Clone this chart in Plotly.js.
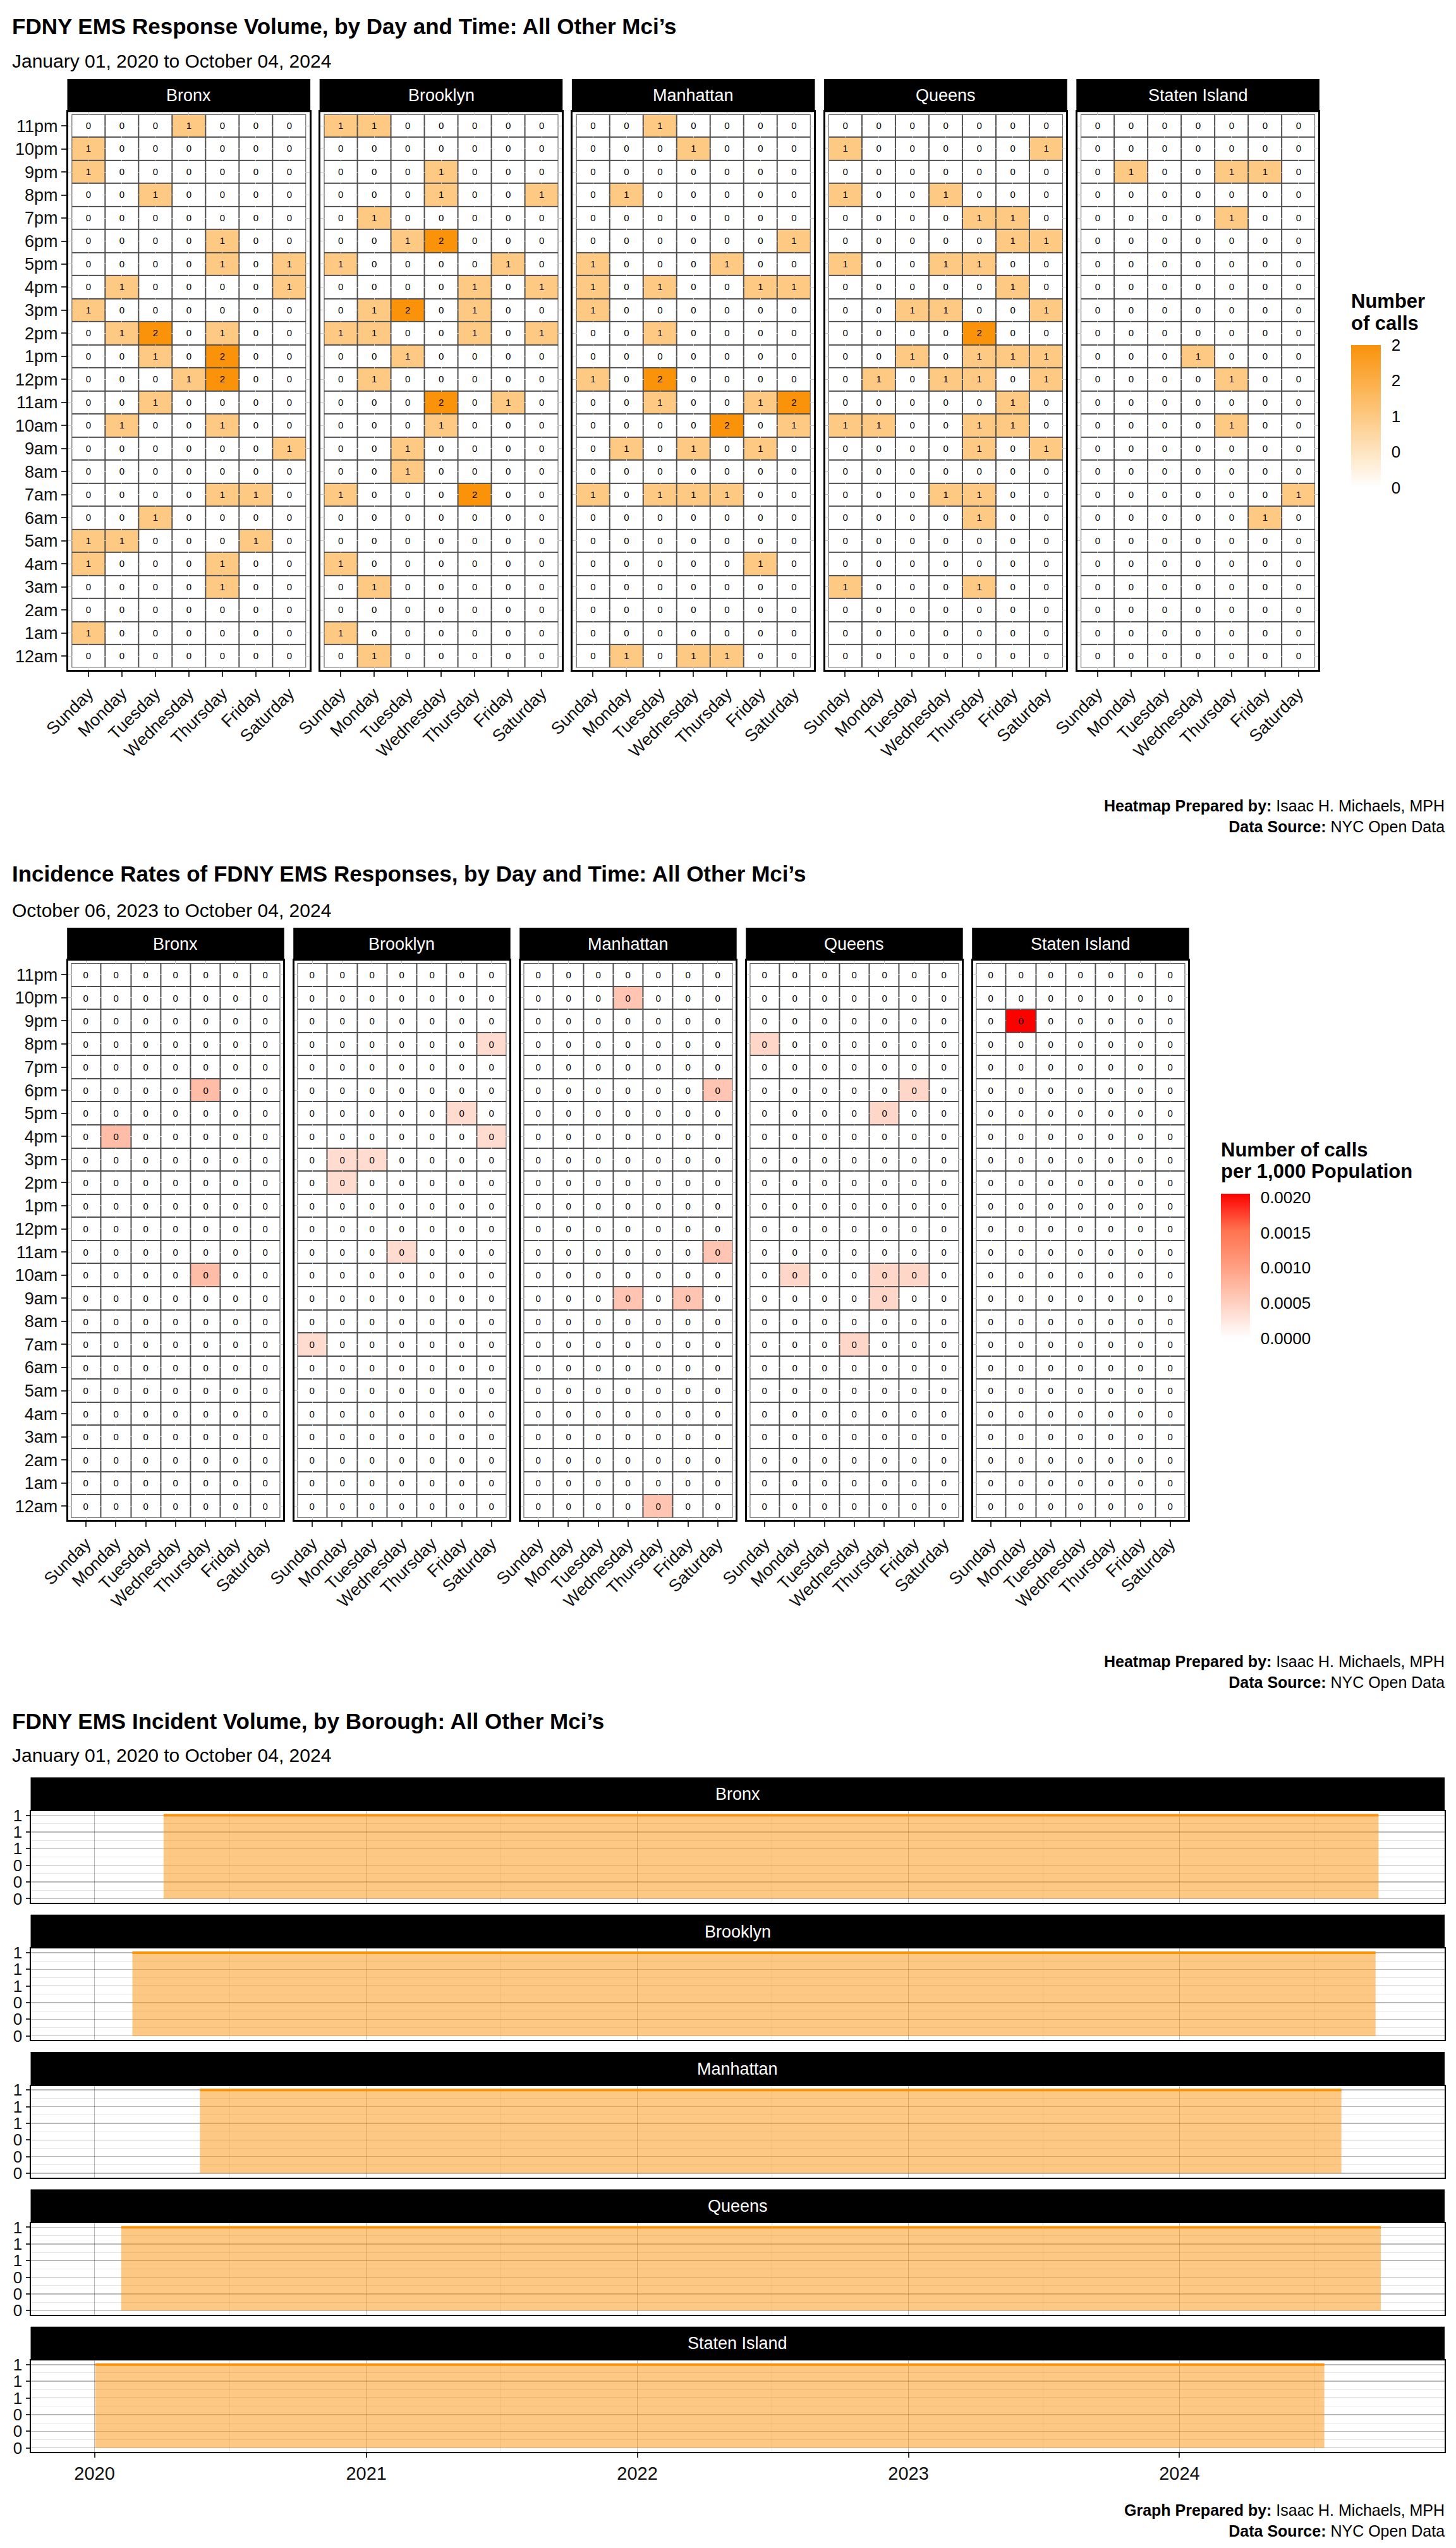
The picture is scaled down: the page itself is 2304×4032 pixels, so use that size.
<!DOCTYPE html>
<html><head><meta charset="utf-8">
<script src="https://cdn.plot.ly/plotly-3.0.1.min.js"></script>
<style>html,body{margin:0;padding:0;background:#fff}#chart{width:2304px;height:4032px}</style>
</head><body><div id="chart"></div>
<script>
// ---------------- DATA ----------------
const days = ['Sunday','Monday','Tuesday','Wednesday','Thursday','Friday','Saturday'];
const hours = ['11pm','10pm','9pm','8pm','7pm','6pm','5pm','4pm','3pm','2pm','1pm','12pm','11am','10am','9am','8am','7am','6am','5am','4am','3am','2am','1am','12am'];
const boroughs = ['Bronx','Brooklyn','Manhattan','Queens','Staten Island'];

// Number of calls (rows = hours top to bottom, cols = days)
const bronxCalls = [
[0,0,0,1,0,0,0],[1,0,0,0,0,0,0],[1,0,0,0,0,0,0],[0,0,1,0,0,0,0],[0,0,0,0,0,0,0],[0,0,0,0,1,0,0],
[0,0,0,0,1,0,1],[0,1,0,0,0,0,1],[1,0,0,0,0,0,0],[0,1,2,0,1,0,0],[0,0,1,0,2,0,0],[0,0,0,1,2,0,0],
[0,0,1,0,0,0,0],[0,1,0,0,1,0,0],[0,0,0,0,0,0,1],[0,0,0,0,0,0,0],[0,0,0,0,1,1,0],[0,0,1,0,0,0,0],
[1,1,0,0,0,1,0],[1,0,0,0,1,0,0],[0,0,0,0,1,0,0],[0,0,0,0,0,0,0],[1,0,0,0,0,0,0],[0,0,0,0,0,0,0]];
const brooklynCalls = [
[1,1,0,0,0,0,0],[0,0,0,0,0,0,0],[0,0,0,1,0,0,0],[0,0,0,1,0,0,1],[0,1,0,0,0,0,0],[0,0,1,2,0,0,0],
[1,0,0,0,0,1,0],[0,0,0,0,1,0,1],[0,1,2,0,1,0,0],[1,1,0,0,1,0,1],[0,0,1,0,0,0,0],[0,1,0,0,0,0,0],
[0,0,0,2,0,1,0],[0,0,0,1,0,0,0],[0,0,1,0,0,0,0],[0,0,1,0,0,0,0],[1,0,0,0,2,0,0],[0,0,0,0,0,0,0],
[0,0,0,0,0,0,0],[1,0,0,0,0,0,0],[0,1,0,0,0,0,0],[0,0,0,0,0,0,0],[1,0,0,0,0,0,0],[0,1,0,0,0,0,0]];
const manhattanCalls = [
[0,0,1,0,0,0,0],[0,0,0,1,0,0,0],[0,0,0,0,0,0,0],[0,1,0,0,0,0,0],[0,0,0,0,0,0,0],[0,0,0,0,0,0,1],
[1,0,0,0,1,0,0],[1,0,1,0,0,1,1],[1,0,0,0,0,0,0],[0,0,1,0,0,0,0],[0,0,0,0,0,0,0],[1,0,2,0,0,0,0],
[0,0,1,0,0,1,2],[0,0,0,0,2,0,1],[0,1,0,1,0,1,0],[0,0,0,0,0,0,0],[1,0,1,1,1,0,0],[0,0,0,0,0,0,0],
[0,0,0,0,0,0,0],[0,0,0,0,0,1,0],[0,0,0,0,0,0,0],[0,0,0,0,0,0,0],[0,0,0,0,0,0,0],[0,1,0,1,1,0,0]];
const queensCalls = [
[0,0,0,0,0,0,0],[1,0,0,0,0,0,1],[0,0,0,0,0,0,0],[1,0,0,1,0,0,0],[0,0,0,0,1,1,0],[0,0,0,0,0,1,1],
[1,0,0,1,1,0,0],[0,0,0,0,0,1,0],[0,0,1,1,0,0,1],[0,0,0,0,2,0,0],[0,0,1,0,1,1,1],[0,1,0,1,1,0,1],
[0,0,0,0,0,1,0],[1,1,0,0,1,1,0],[0,0,0,0,1,0,1],[0,0,0,0,0,0,0],[0,0,0,1,1,0,0],[0,0,0,0,1,0,0],
[0,0,0,0,0,0,0],[0,0,0,0,0,0,0],[1,0,0,0,1,0,0],[0,0,0,0,0,0,0],[0,0,0,0,0,0,0],[0,0,0,0,0,0,0]];
const statenCalls = [
[0,0,0,0,0,0,0],[0,0,0,0,0,0,0],[0,1,0,0,1,1,0],[0,0,0,0,0,0,0],[0,0,0,0,1,0,0],[0,0,0,0,0,0,0],
[0,0,0,0,0,0,0],[0,0,0,0,0,0,0],[0,0,0,0,0,0,0],[0,0,0,0,0,0,0],[0,0,0,1,0,0,0],[0,0,0,0,1,0,0],
[0,0,0,0,0,0,0],[0,0,0,0,1,0,0],[0,0,0,0,0,0,0],[0,0,0,0,0,0,0],[0,0,0,0,0,0,1],[0,0,0,0,0,1,0],
[0,0,0,0,0,0,0],[0,0,0,0,0,0,0],[0,0,0,0,0,0,0],[0,0,0,0,0,0,0],[0,0,0,0,0,0,0],[0,0,0,0,0,0,0]];

// Calls per 1,000 population (last year)
const bronxRates = [
[0,0,0,0,0,0,0],[0,0,0,0,0,0,0],[0,0,0,0,0,0,0],[0,0,0,0,0,0,0],[0,0,0,0,0,0,0],[0,0,0,0,0.00071,0,0],
[0,0,0,0,0,0,0],[0,0.00071,0,0,0,0,0],[0,0,0,0,0,0,0],[0,0,0,0,0,0,0],[0,0,0,0,0,0,0],[0,0,0,0,0,0,0],
[0,0,0,0,0,0,0],[0,0,0,0,0.00071,0,0],[0,0,0,0,0,0,0],[0,0,0,0,0,0,0],[0,0,0,0,0,0,0],[0,0,0,0,0,0,0],
[0,0,0,0,0,0,0],[0,0,0,0,0,0,0],[0,0,0,0,0,0,0],[0,0,0,0,0,0,0],[0,0,0,0,0,0,0],[0,0,0,0,0,0,0]];
const brooklynRates = [
[0,0,0,0,0,0,0],[0,0,0,0,0,0,0],[0,0,0,0,0,0,0],[0,0,0,0,0,0,0.00038],[0,0,0,0,0,0,0],[0,0,0,0,0,0,0],
[0,0,0,0,0,0.00038,0],[0,0,0,0,0,0,0.00038],[0,0.00038,0.00038,0,0,0,0],[0,0.00038,0,0,0,0,0],[0,0,0,0,0,0,0],[0,0,0,0,0,0,0],
[0,0,0,0.00038,0,0,0],[0,0,0,0,0,0,0],[0,0,0,0,0,0,0],[0,0,0,0,0,0,0],[0.00038,0,0,0,0,0,0],[0,0,0,0,0,0,0],
[0,0,0,0,0,0,0],[0,0,0,0,0,0,0],[0,0,0,0,0,0,0],[0,0,0,0,0,0,0],[0,0,0,0,0,0,0],[0,0,0,0,0,0,0]];
const manhattanRates = [
[0,0,0,0,0,0,0],[0,0,0,0.00062,0,0,0],[0,0,0,0,0,0,0],[0,0,0,0,0,0,0],[0,0,0,0,0,0,0],[0,0,0,0,0,0,0.00062],
[0,0,0,0,0,0,0],[0,0,0,0,0,0,0],[0,0,0,0,0,0,0],[0,0,0,0,0,0,0],[0,0,0,0,0,0,0],[0,0,0,0,0,0,0],
[0,0,0,0,0,0,0.00062],[0,0,0,0,0,0,0],[0,0,0,0.00062,0,0.00062,0],[0,0,0,0,0,0,0],[0,0,0,0,0,0,0],[0,0,0,0,0,0,0],
[0,0,0,0,0,0,0],[0,0,0,0,0,0,0],[0,0,0,0,0,0,0],[0,0,0,0,0,0,0],[0,0,0,0,0,0,0],[0,0,0,0,0.00062,0,0]];
const queensRates = [
[0,0,0,0,0,0,0],[0,0,0,0,0,0,0],[0,0,0,0,0,0,0],[0.00043,0,0,0,0,0,0],[0,0,0,0,0,0,0],[0,0,0,0,0,0.00043,0],
[0,0,0,0,0.00043,0,0],[0,0,0,0,0,0,0],[0,0,0,0,0,0,0],[0,0,0,0,0,0,0],[0,0,0,0,0,0,0],[0,0,0,0,0,0,0],
[0,0,0,0,0,0,0],[0,0.00043,0,0,0.00043,0.00043,0],[0,0,0,0,0.00043,0,0],[0,0,0,0,0,0,0],[0,0,0,0.00043,0,0,0],[0,0,0,0,0,0,0],
[0,0,0,0,0,0,0],[0,0,0,0,0,0,0],[0,0,0,0,0,0,0],[0,0,0,0,0,0,0],[0,0,0,0,0,0,0],[0,0,0,0,0,0,0]];
const statenRates = [
[0,0,0,0,0,0,0],[0,0,0,0,0,0,0],[0,0.00205,0,0,0,0,0],[0,0,0,0,0,0,0],[0,0,0,0,0,0,0],[0,0,0,0,0,0,0],
[0,0,0,0,0,0,0],[0,0,0,0,0,0,0],[0,0,0,0,0,0,0],[0,0,0,0,0,0,0],[0,0,0,0,0,0,0],[0,0,0,0,0,0,0],
[0,0,0,0,0,0,0],[0,0,0,0,0,0,0],[0,0,0,0,0,0,0],[0,0,0,0,0,0,0],[0,0,0,0,0,0,0],[0,0,0,0,0,0,0],
[0,0,0,0,0,0,0],[0,0,0,0,0,0,0],[0,0,0,0,0,0,0],[0,0,0,0,0,0,0],[0,0,0,0,0,0,0],[0,0,0,0,0,0,0]];

// Incident volume over time (first and last incident, daily volume)
const bronxDates = ['2020-04-03','2024-09-25'];      const bronxVolume = [1,1];
const brooklynDates = ['2020-02-21','2024-09-21'];   const brooklynVolume = [1,1];
const manhattanDates = ['2020-05-22','2024-08-06'];  const manhattanVolume = [1,1];
const queensDates = ['2020-02-06','2024-09-28'];     const queensVolume = [1,1];
const statenDates = ['2020-01-02','2024-07-14'];     const statenVolume = [1,1];

// Tick labels
const callTicks = [0,0.5,1,1.5,2];
const callTickLabels = ['0','0','1','2','2'];
const rateTicks = [0,0.0005,0.001,0.0015,0.002];
const rateTickLabels = ['0.0000','0.0005','0.0010','0.0015','0.0020'];
const volTicks = [0,0.2,0.4,0.6,0.8,1];
const volTickLabels = ['0','0','0','1','1','1'];
const volMinorTicks = [0.1,0.3,0.5,0.7,0.9];
const yearTicks = ['2020-01-01','2021-01-01','2022-01-01','2023-01-01','2024-01-01'];
const yearLabels = ['2020','2021','2022','2023','2024'];
const halfYearTicks = ['2019-07-01','2020-07-01','2021-07-01','2022-07-01','2023-07-01','2024-07-01'];

// ---------------- LAYOUT ----------------
const W = 2304, H = 4032;
const FONT = 'Liberation Sans, Arial, Helvetica, sans-serif';
const px = v => v / W;
const py = v => 1 - v / H;

const callsData = [bronxCalls, brooklynCalls, manhattanCalls, queensCalls, statenCalls];
const ratesData = [bronxRates, brooklynRates, manhattanRates, queensRates, statenRates];
const volDates = [bronxDates, brooklynDates, manhattanDates, queensDates, statenDates];
const volValues = [bronxVolume, brooklynVolume, manhattanVolume, queensVolume, statenVolume];

const orangeScale = [[0,'rgb(255,255,255)'],[0.5,'rgb(253,201,131)'],[1,'rgb(250,146,10)']];
const redScale = [[0,'rgb(255,255,255)'],[0.25,'rgb(255,207,191)'],[0.5,'rgb(255,158,129)'],[0.75,'rgb(255,114,79)'],[1,'rgb(255,0,0)']];

const traces = [];
const shapes = [];
const annotations = [];
const layout = {
  width: W, height: H,
  margin: {l:0, r:0, t:0, b:0},
  paper_bgcolor: '#ffffff', plot_bgcolor: '#ffffff',
  showlegend: false,
  font: {family: FONT, color: '#000'},
  shapes: shapes, annotations: annotations
};

function addTitle(text, y, size, bold) {
  annotations.push({xref:'paper', yref:'paper', x: px(17), y: py(y), xanchor:'left', yanchor:'middle',
    text: bold ? '<b>'+text+'</b>' : text, showarrow:false, font:{size:size, family:FONT, color:'#000'}});
}
function addFooter(first, y) {
  annotations.push({xref:'paper', yref:'paper', x: px(2288), y: py(y), xanchor:'right', yanchor:'middle', align:'right',
    text: '<b>'+first+'</b> Isaac H. Michaels, MPH<br><b>Data Source:</b> NYC Open Data',
    showarrow:false, font:{size:25, family:FONT, color:'#000'}});
}
function addStrip(x0, x1, y0, y1, label) {
  shapes.push({type:'rect', xref:'paper', yref:'paper', x0:px(x0), x1:px(x1), y0:py(y1), y1:py(y0),
    fillcolor:'#000', line:{width:0}, layer:'above'});
  annotations.push({xref:'paper', yref:'paper', x: px((x0+x1)/2), y: py((y0+y1)/2), xanchor:'center', yanchor:'middle',
    text: label, showarrow:false, font:{size:27, family:FONT, color:'#fff'}});
}

function addHeatRow(dataSet, axisStart, frameLeft0, step, frameW, yTop, yBot, stripTop, coloraxis, tmpl) {
  for (let k = 0; k < boroughs.length; k++) {
    const n = axisStart + k;
    const xa = 'x' + n, ya = 'y' + n;
    const left = frameLeft0 + k * step;
    traces.push({type:'heatmap', x: days, y: hours, z: dataSet[k], xaxis: xa, yaxis: ya,
      coloraxis: coloraxis, xgap: 2, ygap: 2, texttemplate: tmpl,
      textfont: {size: 15, family: FONT, color: '#000'}, hoverinfo: 'skip'});
    layout['xaxis' + n] = {domain:[px(left), px(left + frameW)], anchor: ya, type:'category',
      range:[-0.6, days.length - 0.4], tickangle: -45, ticks:'outside', ticklen: 8, tickwidth: 2, tickcolor:'#333',
      showline: true, mirror: true, linecolor:'#000', linewidth: 3, showgrid: true, gridcolor:'#c8c8c8', gridwidth: 1,
      zeroline: false, fixedrange: true, tickfont:{size: 27, family: FONT, color:'#111'}};
    layout['yaxis' + n] = {domain:[py(yBot), py(yTop)], anchor: xa, type:'category',
      range:[hours.length - 0.4, -0.6], ticks: k === 0 ? 'outside' : '', ticklen: 8, tickwidth: 2, tickcolor:'#333',
      showticklabels: k === 0, showline: true, mirror: true, linecolor:'#000', linewidth: 3,
      showgrid: true, gridcolor:'#c8c8c8', gridwidth: 1, zeroline: false, fixedrange: true,
      tickfont:{size: 27, family: FONT, color:'#111'}};
    // dark backing under the tiles so the gaps read as cell borders
    shapes.push({type:'rect', xref: xa, yref: ya, x0: -0.5, x1: days.length - 0.5, y0: -0.5, y1: hours.length - 0.5,
      fillcolor:'#505050', line:{width:0}, layer:'below'});
    addStrip(left - 1.5, left + frameW + 1.5, stripTop, yTop, boroughs[k]);
  }
}

// ---- Chart 1: counts heatmap ----
addTitle('FDNY EMS Response Volume, by Day and Time: All Other Mci’s', 42, 35, true);
addTitle('January 01, 2020 to October 04, 2024', 96, 30, false);
addHeatRow(callsData, 1, 108, 399.2, 381.6, 177.2, 1060.1, 125, 'coloraxis', '%{z}');
addFooter('Heatmap Prepared by:', 1291);

// ---- Chart 2: rates heatmap ----
addTitle('Incidence Rates of FDNY EMS Responses, by Day and Time: All Other Mci’s', 1383, 35, true);
addTitle('October 06, 2023 to October 04, 2024', 1440, 30, false);
addHeatRow(ratesData, 6, 107.7, 358, 340.5, 1520.3, 2405.3, 1468, 'coloraxis2', '%{z:.0f}');
addFooter('Heatmap Prepared by:', 2645);

// colour axes
let rateMax = 0;
ratesData.forEach(m => m.forEach(r => r.forEach(v => { if (v > rateMax) rateMax = v; })));
let callMax = 0;
callsData.forEach(m => m.forEach(r => r.forEach(v => { if (v > callMax) callMax = v; })));

layout.coloraxis = {cmin: 0, cmax: callMax, colorscale: orangeScale,
  colorbar: {x: px(2138), xanchor:'left', y: py(545.7), yanchor:'top', len: 226, lenmode:'pixels',
    thickness: 47, thicknessmode:'pixels', xpad: 0, ypad: 0, outlinewidth: 0,
    tickmode:'array', tickvals: callTicks, ticktext: callTickLabels, ticks:'outside', ticklen: 12,
    tickcolor:'rgba(0,0,0,0)', tickfont:{size: 26, family: FONT, color:'#000'}}};
layout.coloraxis2 = {cmin: 0, cmax: rateMax, colorscale: redScale,
  colorbar: {x: px(1931.7), xanchor:'left', y: py(1889), yanchor:'top', len: 229, lenmode:'pixels',
    thickness: 46, thicknessmode:'pixels', xpad: 0, ypad: 0, outlinewidth: 0,
    tickmode:'array', tickvals: rateTicks, ticktext: rateTickLabels, ticks:'outside', ticklen: 12,
    tickcolor:'rgba(0,0,0,0)', tickfont:{size: 26, family: FONT, color:'#000'}}};

function legendTitle(text, x, y) {
  annotations.push({xref:'paper', yref:'paper', x: px(x), y: py(y), xanchor:'left', yanchor:'middle',
    text:'<b>'+text+'</b>', showarrow:false, font:{size: 31, family: FONT, color:'#000'}});
}
legendTitle('Number', 2136, 477);
legendTitle('of calls', 2136, 511);
legendTitle('Number of calls', 1930, 1820);
legendTitle('per 1,000 Population', 1930, 1853);

// ---- Chart 3: incident volume over time ----
addTitle('FDNY EMS Incident Volume, by Borough: All Other Mci’s', 2723, 35, true);
addTitle('January 01, 2020 to October 04, 2024', 2777, 30, false);

let tMin = Infinity, tMax = -Infinity;
volDates.forEach(d => d.forEach(s => { const t = Date.parse(s); if (t < tMin) tMin = t; if (t > tMax) tMax = t; }));
const pad = (tMax - tMin) * 0.05;
const iso = t => new Date(t).toISOString().slice(0, 10);
const xRange = [iso(tMin - pad), iso(tMax + pad)];

const pLeft = 48.5, pRight = 2286, stripStart = 2812.5, period = 217.3, stripH = 53.5, panelH = 145;
for (let k = 0; k < boroughs.length; k++) {
  const n = 11 + k;
  const xa = 'x' + n, ya = 'y' + n;
  const sTop = stripStart + k * period;
  const pTop = sTop + stripH, pBot = pTop + panelH;
  const last = k === boroughs.length - 1;
  traces.push({type:'scatter', mode:'lines', x: volDates[k], y: volValues[k], xaxis: xa, yaxis: ya,
    fill:'tozeroy', fillcolor:'rgba(250,146,10,0.5)', line:{color:'rgb(250,146,10)', width: 4}, hoverinfo:'skip'});
  layout['xaxis' + n] = {domain:[px(pLeft), px(pRight)], anchor: ya, type:'date', range: xRange,
    tickmode:'array', tickvals: yearTicks, ticktext: yearLabels, showticklabels: last,
    ticks: last ? 'outside' : '', ticklen: 7, tickwidth: 2, tickcolor:'#333',
    showgrid: true, gridcolor:'rgba(0,0,0,0.28)', gridwidth: 1.5,
    minor:{tickmode:'array', tickvals: halfYearTicks, showgrid: true, gridcolor:'rgba(0,0,0,0.1)', gridwidth: 1},
    showline: true, mirror: true, linecolor:'#000', linewidth: 2, zeroline: false, fixedrange: true,
    tickfont:{size: 29, family: FONT, color:'#111'}};
  layout['yaxis' + n] = {domain:[py(pBot), py(pTop)], anchor: xa, range:[-0.05, 1.05],
    tickmode:'array', tickvals: volTicks, ticktext: volTickLabels, ticks:'outside', ticklen: 6, tickwidth: 2, tickcolor:'#333',
    showgrid: true, gridcolor:'rgba(0,0,0,0.28)', gridwidth: 1.5,
    minor:{tickmode:'array', tickvals: volMinorTicks, showgrid: true, gridcolor:'rgba(0,0,0,0.1)', gridwidth: 1},
    showline: true, mirror: true, linecolor:'#000', linewidth: 2, zeroline: false, fixedrange: true,
    tickfont:{size: 26, family: FONT, color:'#111'}};
  addStrip(pLeft, pRight, sTop, pTop, boroughs[k]);
}
addFooter('Graph Prepared by:', 3988);

Plotly.newPlot('chart', traces, layout, {displayModeBar: false, staticPlot: true});
</script>
</body></html>
